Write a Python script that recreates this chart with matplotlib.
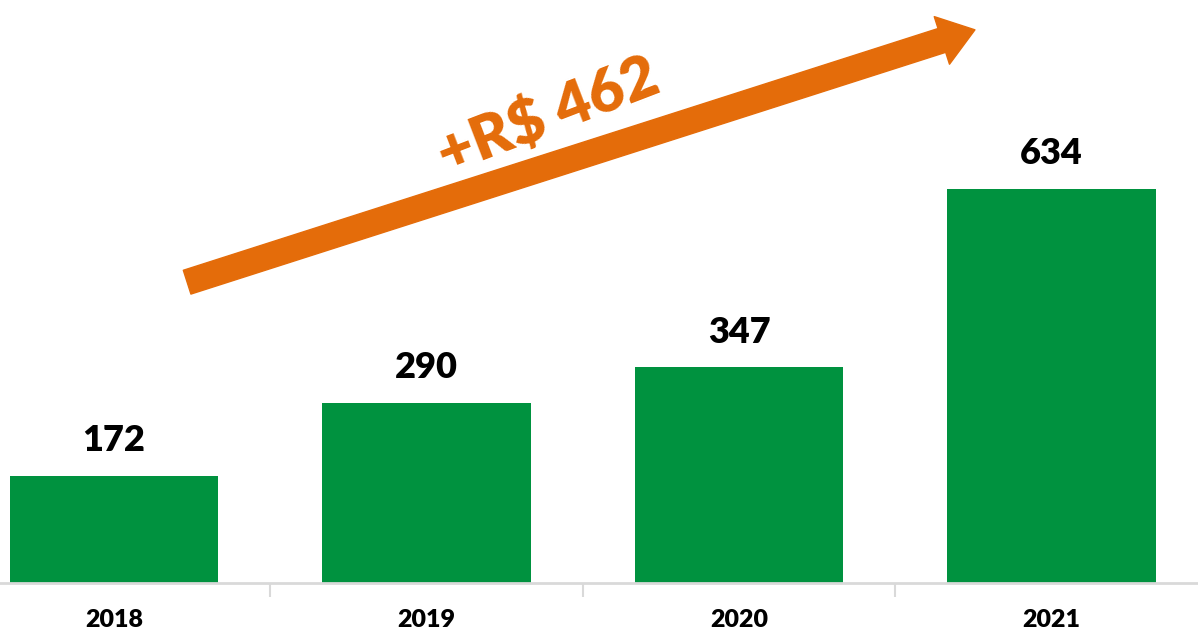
import matplotlib
matplotlib.use('Agg')
import matplotlib.pyplot as plt
import numpy as np

years = ['2018', '2019', '2020', '2021']
values = [172, 290, 347, 634]
growth_label = '+R$ 462'

green = '#00923F'
orange = '#E46C0A'
axis_gray = '#D9D9D9'

plt.rcParams['font.family'] = ['Lato', 'DejaVu Sans']

fig = plt.figure(figsize=(11.98, 6.33), dpi=100)
ax = fig.add_axes([0, 50 / 633, 1, 583 / 633])

x = np.arange(len(years))
ax.bar(x, values, width=0.666, color=green, zorder=2)
for xi, v in zip(x, values):
    ax.text(xi, v + 30, str(v), ha='center', va='bottom',
            fontsize=26, fontweight='heavy', color='black')

ax.set_xlim(-114 / 312.5, (1198 - 114) / 312.5)
ax.set_ylim(0, 938)

# category separators like an excel axis
ax.set_xticks(x)
ax.set_xticklabels(years, fontsize=18, fontweight='heavy')
ax.set_xticks(x[:-1] + 0.5, minor=True)
ax.tick_params(axis='x', which='major', length=0, pad=19)
ax.tick_params(axis='x', which='minor', length=10, width=1.5, color=axis_gray)
ax.set_yticks([])
for s in ['top', 'right', 'left']:
    ax.spines[s].set_visible(False)
ax.spines['bottom'].set_color(axis_gray)
ax.spines['bottom'].set_linewidth(2)

# growth arrow from 2018 to 2021
ax.annotate('', xy=(2.755, 890), xytext=(0.234, 484),
            arrowprops=dict(arrowstyle='simple,head_length=2.5,head_width=3.6,tail_width=1.8',
                            mutation_scale=10, color=orange, shrinkA=0, shrinkB=0),
            zorder=3)
ax.text(1.39, 752, growth_label, ha='center', va='center', rotation=21,
        fontsize=44, fontweight='heavy', color=orange)

fig.savefig('out.png', dpi=100)
